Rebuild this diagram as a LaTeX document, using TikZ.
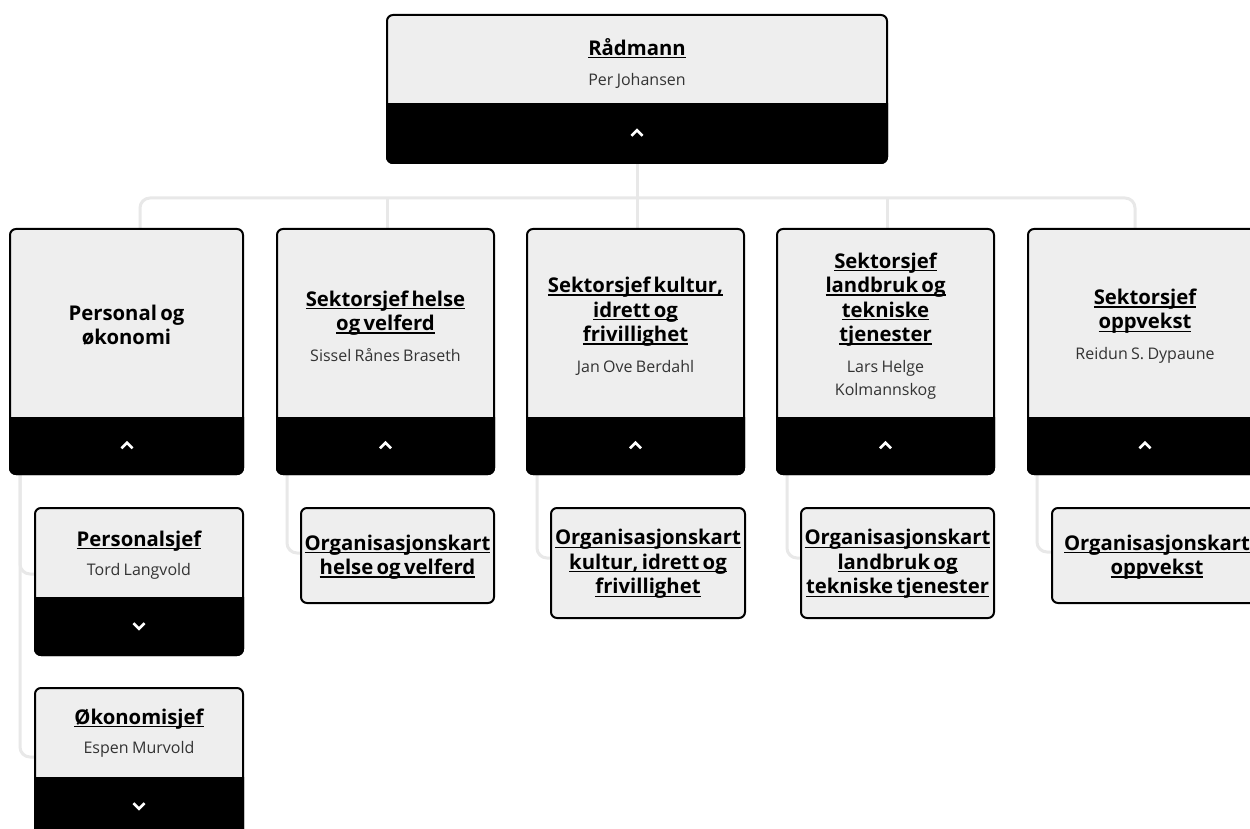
\documentclass[tikz,border=0pt]{standalone}
\usepackage{fontspec}
\setmainfont{Open Sans}
\definecolor{boxgray}{HTML}{EEEEEE}
\definecolor{conngray}{HTML}{E8E8E8}
\definecolor{namegray}{HTML}{333333}
\newsavebox\ulbox
\newcommand\ulin[1]{\leavevmode\sbox\ulbox{#1}\rlap{\rule[-3.2pt]{\wd\ulbox}{1.4pt}}\usebox\ulbox}
\newcommand\ttlfont{\bfseries\fontsize{20.3}{24.5}\selectfont}
\newcommand\nmfont{\color{namegray}\fontsize{16}{23.5}\selectfont}
\tikzset{
 obox/.style={draw=black, fill=boxgray, line width=2pt, rounded corners=6pt, inner sep=0pt, outer sep=0pt},
 conn/.style={draw=conngray, line width=3pt},
 connr/.style={conn, rounded corners=10pt},
 txt/.style={align=center, inner sep=0pt, text width=#1},
 chev/.style={draw=white, line width=2.6pt},
}
\newcommand\orgbox[6]{%
 \pgfmathsetmacro\obw{#4-#2}\pgfmathsetmacro\obh{#5-#3}%
 \pgfmathsetmacro\obx{(#2+#4)/2}\pgfmathsetmacro\oby{(#3+#5)/2}%
 \node[obox, minimum width=\obw pt, minimum height=\obh pt] (#1) at (\obx,\oby) {};
 \ifx&#6&\else
 \begin{scope}\clip (#2-4,#6) rectangle (#4+4,#5+4);
 \fill[black, draw=black, line width=2pt, rounded corners=6pt] (#1.north west) rectangle (#1.south east);
 \end{scope}\fi}
\newcommand\chevup[2]{\draw[chev] (#1-5.5,#2+2.8) -- (#1,#2-2.8) -- (#1+5.5,#2+2.8);}
\newcommand\chevdown[2]{\draw[chev] (#1-5.5,#2-2.8) -- (#1,#2+2.8) -- (#1+5.5,#2-2.8);}
\begin{document}
\begin{tikzpicture}[x=1pt, y=-1pt]
\useasboundingbox (0,0) rectangle (1250,829);
\fill[white] (0,0) rectangle (1250,829);
\clip (0,0) rectangle (1250,829);

% connector coordinates
\coordinate (hub) at (637,198);
\coordinate (b1in) at (140,229);
\coordinate (b2in) at (387,229);
\coordinate (b3in) at (637,229);
\coordinate (b4in) at (887,229);
\coordinate (b5in) at (1135,229);
\coordinate (b1out) at (20,474);
\coordinate (b2out) at (287,474);
\coordinate (b3out) at (537,474);
\coordinate (b4out) at (787,474);
\coordinate (b5out) at (1037,474);
\coordinate (c1ain) at (35,574);
\coordinate (c1bin) at (35,757);
\coordinate (c2in) at (301,553);
\coordinate (c3in) at (551,558);
\coordinate (c4in) at (801,558);
\coordinate (c5in) at (1052,552);

% connectors
\draw[conn] (637,163) -- (hub);
\draw[connr] (b1in) |- (hub) -| (b5in);
\draw[conn] (b2in |- hub) -- (b2in);
\draw[conn] (hub) -- (b3in);
\draw[conn] (b4in |- hub) -- (b4in);
\draw[connr] (b1out) |- (c1ain);
\draw[connr] (b1out) |- (c1bin);
\draw[connr] (b2out) |- (c2in);
\draw[connr] (b3out) |- (c3in);
\draw[connr] (b4out) |- (c4in);
\draw[connr] (b5out) |- (c5in);

% boxes
\orgbox{r}{387}{15}{887}{163}{104}
\orgbox{b1}{10}{229}{243}{474}{417}
\orgbox{b2}{277}{229}{494}{474}{417}
\orgbox{b3}{527}{229}{744}{474}{417}
\orgbox{b4}{777}{229}{994}{474}{417}
\orgbox{b5}{1028}{229}{1262}{474}{417}
\orgbox{c1a}{35}{508}{243}{655}{597}
\orgbox{c1b}{35}{688}{243}{836}{777}
\orgbox{c2}{301}{508}{494}{603}{}
\orgbox{c3}{551}{508}{745}{618}{}
\orgbox{c4}{801}{508}{994}{618}{}
\orgbox{c5}{1052}{508}{1262}{603}{}

% texts
\node[txt=480pt] (rt) at (637,63.5) {{\ttlfont\ulin{Rådmann}\par}\vspace{7pt}{\nmfont Per Johansen\par}};
\node[txt=240pt] (b1t) at (126.5,325) {{\ttlfont Personal og\\økonomi\par}};
\node[txt=240pt] (b2t) at (385.5,326) {{\ttlfont\ulin{Sektorsjef helse}\\\ulin{og velferd}\par}\vspace{7pt}{\nmfont Sissel Rånes Braseth\par}};
\node[txt=240pt] (b3t) at (635.5,326) {{\ttlfont\ulin{Sektorsjef kultur,}\\\ulin{idrett og}\\\ulin{frivillighet}\par}\vspace{7pt}{\nmfont Jan Ove Berdahl\par}};
\node[txt=240pt] (b4t) at (885.5,326) {{\ttlfont\ulin{Sektorsjef}\\\ulin{landbruk og}\\\ulin{tekniske}\\\ulin{tjenester}\par}\vspace{7pt}{\nmfont Lars Helge\\Kolmannskog\par}};
\node[txt=240pt] (b5t) at (1145,326) {{\ttlfont\ulin{Sektorsjef}\\\ulin{oppvekst}\par}\vspace{7pt}{\nmfont Reidun S. Dypaune\par}};
\node[txt=240pt] (c1at) at (139,555) {{\ttlfont\ulin{Personalsjef}\par}\vspace{6pt}{\nmfont Tord Langvold\par}};
\node[txt=240pt] (c1bt) at (139,733) {{\ttlfont\ulin{Økonomisjef}\par}\vspace{6pt}{\nmfont Espen Murvold\par}};
\node[txt=240pt] (c2t) at (397.5,557) {{\ttlfont\ulin{Organisasjonskart}\\\ulin{helse og velferd}\par}};
\node[txt=240pt] (c3t) at (648,564) {{\ttlfont\ulin{Organisasjonskart}\\\ulin{kultur, idrett og}\\\ulin{frivillighet}\par}};
\node[txt=240pt] (c4t) at (897.5,564) {{\ttlfont\ulin{Organisasjonskart}\\\ulin{landbruk og}\\\ulin{tekniske tjenester}\par}};
\node[txt=240pt] (c5t) at (1157,557) {{\ttlfont\ulin{Organisasjonskart}\\\ulin{oppvekst}\par}};

% chevrons
\chevup{637}{133}
\chevup{127}{445.5}
\chevup{385.5}{445.5}
\chevup{635.5}{445.5}
\chevup{885.5}{445.5}
\chevup{1145}{445.5}
\chevdown{139}{626}
\chevdown{139}{806}
\end{tikzpicture}
\end{document}
